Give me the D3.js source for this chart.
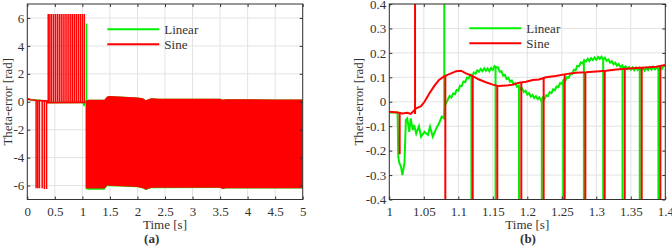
<!DOCTYPE html>
<html>
<head>
<meta charset="utf-8">
<script src="https://cdn.jsdelivr.net/npm/d3@7"></script>
<style>
  body { margin: 0; background: #fff; }
  svg text { font-family: "Liberation Serif", "Times New Roman", serif; fill: #333; }
</style>
</head>
<body>
<svg width="672" height="248"></svg>
<script>
// ---- panel (a) data ----
const timeTicksA = [0, 0.5, 1, 1.5, 2, 2.5, 3, 3.5, 4, 4.5, 5];
const thetaTicksA = [-6, -4, -2, 0, 2, 4, 6];
const sineA = [[0, 0.1], [0.02, 0.2], [0.06, 0.15], [0.16, 0.1], [0.36, 0.05], [0.37, -0.08], [1.05, -0.05]];
const linearA = [[0, 0.1], [0.02, 0.2], [0.06, 0.15], [0.36, 0.05], [0.37, -0.05], [1.0, -0.05], [1.02, -0.12],
  [1.03, -0.3], [1.045, -0.1], [1.075, 0.15]];
// spikes: [time, from, to]
const sineSpikesA = [[0.16, 0.1, -6.2], [0.19, 0.1, -6.2], [0.22, 0.1, -6.2], [0.27, 0.1, -6.2], [0.31, 0.1, -6.25], [0.35, 0.1, -6.25],
  [0.38, -0.08, 6.28], [0.41, -0.08, 6.28], [0.44, -0.08, 6.28], [0.475, -0.08, 6.28], [0.51, -0.08, 6.28],
  [0.545, -0.08, 6.28], [0.58, -0.08, 6.28], [0.615, -0.08, 6.28], [0.65, -0.07, 6.28], [0.685, -0.07, 6.28],
  [0.72, -0.07, 6.28], [0.755, -0.07, 6.28], [0.79, -0.06, 6.28], [0.825, -0.06, 6.28], [0.86, -0.06, 6.28],
  [0.895, -0.06, 6.28], [0.93, -0.06, 6.28], [0.965, -0.05, 6.28], [1.0, -0.05, 6.28], [1.035, -0.05, 6.28]];
const linearSpikesA = [[1.075, 0.1, 5.6]];
const bandTimeA = [1.06, 1.1, 1.4, 1.45, 1.5, 2.0, 2.1, 2.15, 2.25, 2.4, 3.5, 3.55, 3.6, 4.0, 4.5, 5.0];
const sineBandTopA = [0.05, 0.15, 0.15, 0.38, 0.42, 0.3, 0.25, 0.1, 0.25, 0.22, 0.22, 0.15, 0.18, 0.18, 0.17, 0.17];
const sineBandBottomA = [-6.2, -6.22, -6.22, -6.0, -6.02, -6.1, -6.2, -6.3, -6.15, -6.15, -6.15, -6.25, -6.2, -6.2, -6.2, -6.2];
const linearBandBottomA = [-6.25, -6.3, -6.3, -6.05, -6.05, -6.12, -6.22, -6.32, -6.2, -6.2, -6.18, -6.27, -6.22, -6.22, -6.22, -6.22];

// ---- panel (b) data ----
const timeTicksB = [1, 1.05, 1.1, 1.15, 1.2, 1.25, 1.3, 1.35, 1.4];
const thetaTicksB = [-0.4, -0.3, -0.2, -0.1, 0, 0.1, 0.2, 0.3, 0.4];
const sineB = [[1.0, -0.041], [1.012, -0.044], [1.019, -0.048], [1.026, -0.045], [1.031, -0.05], [1.039, -0.027],
  [1.046, -0.018], [1.051, 0], [1.058, 0.034], [1.065, 0.064], [1.072, 0.089], [1.08, 0.105], [1.087, 0.113],
  [1.097, 0.125], [1.104, 0.127], [1.111, 0.116], [1.121, 0.105], [1.13, 0.091], [1.14, 0.08], [1.15, 0.07],
  [1.159, 0.064], [1.169, 0.066], [1.179, 0.07], [1.188, 0.078], [1.198, 0.082], [1.208, 0.089], [1.217, 0.091],
  [1.227, 0.1], [1.241, 0.105], [1.256, 0.113], [1.27, 0.119], [1.285, 0.121], [1.3, 0.124], [1.314, 0.127],
  [1.329, 0.132], [1.343, 0.135], [1.358, 0.138], [1.372, 0.14], [1.387, 0.143], [1.4, 0.15]];
const linearB = [[1.0, -0.044], [1.012, -0.044], [1.013, -0.225], [1.0145, -0.25], [1.017, -0.266], [1.019, -0.3],
  [1.022, -0.25], [1.024, -0.075], [1.026, -0.068], [1.029, -0.123], [1.031, -0.068], [1.034, -0.116],
  [1.036, -0.095], [1.039, -0.13], [1.043, -0.1], [1.046, -0.143], [1.051, -0.123], [1.056, -0.136],
  [1.059, -0.102], [1.063, -0.143], [1.068, -0.109], [1.072, -0.089], [1.076, -0.061], [1.079, -0.068],
  [1.081, -0.014],
  [1.085, 0.010], [1.0875, 0.024], [1.09, 0.017], [1.0925, 0.034], [1.095, 0.030], [1.0975, 0.048],
  [1.10, 0.045], [1.1025, 0.066], [1.105, 0.064], [1.1075, 0.083], [1.11, 0.080], [1.1125, 0.098],
  [1.115, 0.095], [1.1175, 0.110], [1.12, 0.105], [1.1225, 0.120], [1.125, 0.115], [1.1275, 0.129],
  [1.13, 0.123], [1.1325, 0.134], [1.135, 0.125], [1.1375, 0.137], [1.14, 0.127], [1.1425, 0.136],
  [1.145, 0.125], [1.1475, 0.138], [1.15, 0.130], [1.1525, 0.146], [1.155, 0.140], [1.1575, 0.141],
  [1.16, 0.123], [1.1625, 0.125], [1.165, 0.107], [1.1675, 0.110], [1.17, 0.093], [1.1725, 0.098],
  [1.175, 0.082], [1.1775, 0.087], [1.18, 0.071], [1.1825, 0.076], [1.185, 0.061], [1.1875, 0.066],
  [1.19, 0.051], [1.1925, 0.055], [1.195, 0.040], [1.1975, 0.045], [1.20, 0.029], [1.2025, 0.035],
  [1.205, 0.021], [1.2075, 0.028], [1.21, 0.015], [1.2125, 0.023], [1.215, 0.011], [1.2175, 0.018],
  [1.22, 0.005], [1.2225, 0.018], [1.225, 0.011], [1.2275, 0.027], [1.23, 0.023], [1.2325, 0.039],
  [1.235, 0.035], [1.2375, 0.051], [1.24, 0.047], [1.2425, 0.063], [1.245, 0.060], [1.2475, 0.076],
  [1.25, 0.073], [1.2525, 0.089], [1.255, 0.085], [1.2575, 0.101], [1.26, 0.098], [1.2625, 0.115],
  [1.265, 0.113], [1.2675, 0.131], [1.27, 0.129], [1.2725, 0.147], [1.275, 0.145], [1.2775, 0.161],
  [1.28, 0.157], [1.2825, 0.171], [1.285, 0.165], [1.2875, 0.176], [1.29, 0.167], [1.2925, 0.178],
  [1.295, 0.170], [1.2975, 0.181], [1.30, 0.172], [1.3025, 0.183], [1.305, 0.175], [1.3075, 0.184],
  [1.31, 0.173], [1.3125, 0.180], [1.315, 0.167], [1.3175, 0.173], [1.32, 0.160], [1.3225, 0.166],
  [1.325, 0.153], [1.3275, 0.160], [1.33, 0.147], [1.3325, 0.154], [1.335, 0.142], [1.3375, 0.149],
  [1.34, 0.137], [1.3425, 0.145], [1.345, 0.134], [1.3475, 0.142], [1.35, 0.131], [1.3525, 0.140],
  [1.355, 0.129], [1.3575, 0.140], [1.36, 0.130], [1.3625, 0.139], [1.365, 0.129], [1.3675, 0.138],
  [1.37, 0.127], [1.3725, 0.139], [1.375, 0.130], [1.3775, 0.141], [1.38, 0.131], [1.3825, 0.143],
  [1.385, 0.133], [1.3875, 0.142], [1.39, 0.132], [1.3925, 0.143], [1.395, 0.134], [1.3975, 0.146],
  [1.40, 0.146]];
const sineSpikesB = [[1.015, -0.05, -0.215], [1.0373, -0.05, 6.23], [1.0812, 0.105, -6.18], [1.1209, 0.105, -6.18],
  [1.1565, 0.064, -6.2], [1.1913, 0.08, -6.2], [1.2237, 0.1, -6.18], [1.2542, 0.113, -6.17], [1.2841, 0.121, -6.16],
  [1.3122, 0.127, -6.15], [1.3412, 0.135, -6.15], [1.3658, 0.139, -6.14], [1.3928, 0.143, -6.14]];
const linearSpikesB = [[1.0797, -0.068, 6.2], [1.119, 0.109, -6.17], [1.154, 0.146, -6.14], [1.188, 0.06, -6.2],
  [1.221, 0.007, -6.27], [1.252, 0.08, -6.2], [1.282, 0.165, -6.12], [1.31, 0.175, -6.1], [1.338, 0.146, -6.13],
  [1.363, 0.135, -6.14], [1.39, 0.138, -6.14]];

const seriesNames = ["Linear", "Sine"];

const svg = d3.select("svg");
const green = "#00f000";
const red = "#ff0000";
const axisColor = "#333";
const plotTop = 4, plotBottom = 199.5;

const drawPanel = (p) => {
  const x = d3.scaleLinear().domain(p.xDomain).range([p.left, p.right]);
  const y = d3.scaleLinear().domain(p.yDomain).range([plotBottom, plotTop]);
  const line = d3.line().x((d) => x(d[0])).y((d) => y(d[1]));

  svg.append("clipPath").attr("id", p.id)
    .append("rect")
    .attr("x", p.left).attr("y", plotTop)
    .attr("width", p.right - p.left).attr("height", plotBottom - plotTop);

  const g = svg.append("g");

  // grid
  g.append("g").selectAll("line").data(p.xTicks).join("line")
    .attr("x1", (d) => x(d)).attr("x2", (d) => x(d))
    .attr("y1", plotTop).attr("y2", plotBottom)
    .attr("stroke", "#e3e3e3");
  g.append("g").selectAll("line").data(p.yTicks).join("line")
    .attr("y1", (d) => y(d)).attr("y2", (d) => y(d))
    .attr("x1", p.left).attr("x2", p.right)
    .attr("stroke", "#e3e3e3");

  const plot = g.append("g").attr("clip-path", `url(#${p.id})`);

  if (p.bandTime) {
    const greenBand = d3.area()
      .x((d, i) => x(p.bandTime[i]))
      .y0((d, i) => y(p.linearBandBottom[i]))
      .y1((d, i) => y(p.sineBandTop[i]));
    plot.append("path").datum(p.bandTime).attr("d", greenBand).attr("fill", green);
  }

  const spikes = (data, color, w) => {
    plot.append("g").selectAll("path").data(data).join("path")
      .attr("d", (d) => line([[d[0], d[1]], [d[0], d[2]]]))
      .attr("stroke", color).attr("stroke-width", w).attr("fill", "none");
  };

  plot.append("path").datum(p.linear).attr("d", line)
    .attr("fill", "none").attr("stroke", green).attr("stroke-width", p.lineWidth);
  spikes(p.linearSpikes, green, p.lineWidth);

  if (p.bandTime) {
    const redBand = d3.area()
      .x((d, i) => x(p.bandTime[i]))
      .y0((d, i) => y(p.sineBandBottom[i]))
      .y1((d, i) => y(p.sineBandTop[i]));
    plot.append("path").datum(p.bandTime).attr("d", redBand).attr("fill", red);
  }

  plot.append("path").datum(p.sine).attr("d", line)
    .attr("fill", "none").attr("stroke", red).attr("stroke-width", p.lineWidth);
  spikes(p.sineSpikes, red, p.lineWidth);

  // axes
  const fmt = (d) => String(d);
  const styleAxis = (a) => {
    a.select(".domain").remove();
    a.selectAll(".tick line").attr("stroke", axisColor);
    a.selectAll(".tick text")
      .attr("fill", axisColor)
      .style("font-family", "'Liberation Serif', 'Times New Roman', serif")
      .style("font-size", "13px");
  };
  g.append("g").attr("transform", `translate(0,${plotBottom})`)
    .call(d3.axisBottom(x).tickValues(p.xTicks).tickFormat(fmt).tickSize(-3).tickPadding(7))
    .call(styleAxis);
  g.append("g").attr("transform", `translate(0,${plotTop})`)
    .call(d3.axisTop(x).tickValues(p.xTicks).tickFormat("").tickSize(-3))
    .call(styleAxis);
  g.append("g").attr("transform", `translate(${p.left},0)`)
    .call(d3.axisLeft(y).tickValues(p.yTicks).tickFormat(fmt).tickSize(-3).tickPadding(3))
    .call(styleAxis);
  g.append("g").attr("transform", `translate(${p.right},0)`)
    .call(d3.axisRight(y).tickValues(p.yTicks).tickFormat("").tickSize(-3))
    .call(styleAxis);

  g.append("rect")
    .attr("x", p.left).attr("y", plotTop)
    .attr("width", p.right - p.left).attr("height", plotBottom - plotTop)
    .attr("fill", "none").attr("stroke", axisColor).attr("stroke-width", 1);

  // legend
  const legend = g.append("g");
  [green, red].forEach((c, i) => {
    const ly = p.legendY + i * 15;
    legend.append("line")
      .attr("x1", p.legendX).attr("x2", p.legendX + 52)
      .attr("y1", ly).attr("y2", ly)
      .attr("stroke", c).attr("stroke-width", 2);
    legend.append("text")
      .attr("x", p.legendX + 57).attr("y", ly + 4.5)
      .style("font-size", "13px")
      .text(seriesNames[i]);
  });

  // labels
  g.append("text")
    .attr("transform", `translate(${p.yLabelX},${(plotTop + plotBottom) / 2}) rotate(-90)`)
    .attr("text-anchor", "middle")
    .style("font-size", "13px")
    .text("Theta-error [rad]");
  g.append("text")
    .attr("x", (p.left + p.right) / 2).attr("y", 229)
    .attr("text-anchor", "middle")
    .style("font-size", "13px")
    .text("Time [s]");
  g.append("text")
    .attr("x", p.tagX).attr("y", 243)
    .attr("text-anchor", "middle")
    .style("font-size", "13px")
    .style("font-weight", "bold")
    .text(p.tag);
};

drawPanel({
  id: "clipA", left: 27.3, right: 302.7, xDomain: [0, 5], yDomain: [-7, 7],
  xTicks: timeTicksA, yTicks: thetaTicksA, sine: sineA, linear: linearA,
  sineSpikes: sineSpikesA, linearSpikes: linearSpikesA,
  bandTime: bandTimeA, sineBandTop: sineBandTopA, sineBandBottom: sineBandBottomA, linearBandBottom: linearBandBottomA,
  lineWidth: 1.5, legendX: 107.3, legendY: 29.3, yLabelX: 11.5, tag: "(a)", tagX: 151.7
});
drawPanel({
  id: "clipB", left: 389.3, right: 665.3, xDomain: [1, 1.4], yDomain: [-0.4, 0.4],
  xTicks: timeTicksB, yTicks: thetaTicksB, sine: sineB, linear: linearB,
  sineSpikes: sineSpikesB, linearSpikes: linearSpikesB,
  lineWidth: 2, legendX: 469.3, legendY: 28.3, yLabelX: 363, tag: "(b)", tagX: 528
});
</script>
</body>
</html>
